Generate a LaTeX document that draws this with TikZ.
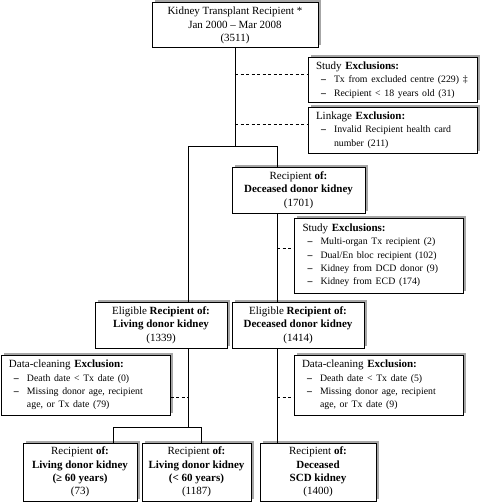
\documentclass[tikz,border=0pt]{standalone}
\usepackage{fontspec}
\setmainfont{Liberation Serif}
\usetikzlibrary{shadows}
\newcommand\exitem[1]{\mbox{\fontsize{9.8}{13.3}\selectfont\hspace*{5pt}\makebox[13pt][l]{\textbf{--}}#1}}
\newcommand\excont[1]{\mbox{\fontsize{9.8}{13.3}\selectfont\hspace*{18pt}#1}}
\tikzset{
  box/.style={draw=black, line width=1pt, fill=white, font=\fontsize{11}{13.3}\selectfont,
    drop shadow={shadow xshift=2.5pt, shadow yshift=2.5pt, fill=black!35, opacity=1}},
  cbox/.style={box, align=center, inner sep=1pt},
  xbox/.style={box, align=left, inner xsep=8pt, inner ysep=1pt},
  link/.style={line width=0.8pt},
  dlink/.style={line width=0.8pt, dash pattern=on 3pt off 2.5pt},
}
\begin{document}
\begin{tikzpicture}[x=1pt,y=-1pt]
\useasboundingbox (0,0) rectangle (480,503);
\node[cbox, minimum width=166pt, minimum height=45pt] (top) at (235,25.5) {Kidney Transplant Recipient *\\Jan 2000 -- Mar 2008\\(3511)};
\node[xbox, text width=153pt, minimum height=44pt] (ex1) at (392.5,80) {Study \textbf{Exclusions:}\\ \exitem{Tx from excluded centre (229) \ddag}\\ \exitem{Recipient < 18 years old (31)}};
\node[xbox, text width=153pt, minimum height=46pt] (ex2) at (392.5,130) {Linkage \textbf{Exclusion:}\\ \exitem{Invalid Recipient health card}\\ \excont{number (211)}};
\node[cbox, minimum width=133pt, minimum height=46pt] (dec) at (298.5,190) {Recipient \textbf{of:}\\ \textbf{Deceased donor kidney}\\(1701)};
\node[xbox, text width=153pt, minimum height=75pt] (ex3) at (379,255.5) {Study \textbf{Exclusions:}\\ \exitem{Multi-organ Tx recipient (2)}\\ \exitem{Dual/En bloc recipient (102)}\\ \exitem{Kidney from DCD donor (9)}\\ \exitem{Kidney from ECD (174)}};
\node[cbox, minimum width=132pt, minimum height=46pt] (eliL) at (161,325) {Eligible \textbf{Recipient of:}\\ \textbf{Living donor kidney}\\(1339)};
\node[cbox, minimum width=132pt, minimum height=46pt] (eliD) at (298,325) {Eligible \textbf{Recipient of:}\\ \textbf{Deceased donor kidney}\\(1414)};
\node[xbox, text width=153pt, minimum height=60pt] (dcL) at (85.5,385) {Data-cleaning \textbf{Exclusion:}\\ \exitem{Death date < Tx date (0)}\\ \exitem{Missing donor age, recipient}\\ \excont{age, or Tx date (79)}};
\node[xbox, text width=153pt, minimum height=60pt] (dcR) at (378.5,385) {Data-cleaning \textbf{Exclusion:}\\ \exitem{Death date < Tx date (5)}\\ \exitem{Missing donor age, recipient}\\ \excont{age, or Tx date (9)}};
\node[cbox, minimum width=114pt, minimum height=58pt] (b1) at (80,472) {Recipient \textbf{of:}\\ \textbf{Living donor kidney}\\ \textbf{(≥ 60 years)}\\(73)};
\node[cbox, minimum width=109pt, minimum height=58pt] (b2) at (196.5,472) {Recipient \textbf{of:}\\ \textbf{Living donor kidney}\\ \textbf{(< 60 years)}\\(1187)};
\node[cbox, minimum width=116pt, minimum height=58pt] (b3) at (318,472) {Recipient \textbf{of:}\\ \textbf{Deceased}\\ \textbf{SCD kidney}\\(1400)};
\coordinate (jL) at (188,146);
\coordinate (jR) at (277,146);
\draw[link] (top.south) -- (top.south |- jL);
\draw[link] (jL) -- (jR);
\draw[link] (jL) -- (jL |- eliL.north);
\draw[link] (jR) -- (jR |- dec.north);
\coordinate (d1) at (235,74);
\coordinate (d2) at (235,124);
\draw[dlink] (d1) -- (d1 -| ex1.west);
\draw[dlink] (d2) -- (d2 -| ex2.west);
\draw[link] (jR |- dec.south) -- (jR |- eliD.north);
\coordinate (d3) at (277,248);
\draw[dlink] (d3) -- (d3 -| ex3.west);
\coordinate (jB) at (188,427);
\draw[link] (jL |- eliL.south) -- (jB);
\coordinate (d4) at (188,397);
\draw[dlink] (dcL.east |- d4) -- (d4);
\coordinate (bL) at (113,427);
\coordinate (bR) at (201,427);
\draw[link] (bL) -- (bR);
\draw[link] (bL) -- (bL |- b1.north);
\draw[link] (bR) -- (bR |- b2.north);
\draw[link] (jR |- eliD.south) -- (jR |- b3.north);
\coordinate (d5) at (277,397);
\draw[dlink] (d5) -- (d5 -| dcR.west);
\end{tikzpicture}
\end{document}
